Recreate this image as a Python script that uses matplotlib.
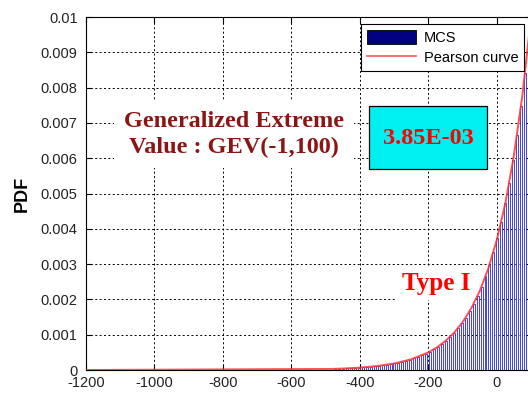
import numpy as np
import matplotlib
matplotlib.use("Agg")
import matplotlib.pyplot as plt
from matplotlib.patches import Patch, Rectangle
from matplotlib.lines import Line2D

# Monte Carlo histogram: 50 equal bins between the sample min and max
bin_lo, bin_hi = -478.0, 100.0
mcs_density = [
    3.3e-5, 3.7e-5, 4.1e-5, 4.6e-5, 5.2e-5, 5.8e-5, 6.6e-5, 7.4e-5, 8.3e-5, 9.3e-5,
    1.04e-4, 1.17e-4, 1.31e-4, 1.47e-4, 1.65e-4, 1.85e-4, 2.08e-4, 2.34e-4, 2.62e-4, 2.94e-4,
    3.30e-4, 3.71e-4, 4.16e-4, 4.67e-4, 5.24e-4, 5.89e-4, 6.61e-4, 7.42e-4, 8.32e-4, 9.35e-4,
    1.05e-3, 1.18e-3, 1.32e-3, 1.48e-3, 1.67e-3, 1.87e-3, 2.10e-3, 2.36e-3, 2.65e-3, 2.97e-3,
    3.34e-3, 3.74e-3, 4.20e-3, 4.72e-3, 5.29e-3, 5.95e-3, 6.67e-3, 7.49e-3, 8.40e-3, 9.43e-3,
]

# fitted Pearson density
pearson_x = [-1200, -480, -450, -400, -350, -300, -250, -200, -175, -150, -125,
             -100, -75, -50, -25, 0, 25, 50, 75, 100]
pearson_pdf = [0.0, 3.0e-5, 4.1e-5, 6.7e-5, 1.11e-4, 1.83e-4, 3.02e-4, 4.98e-4, 6.39e-4,
               8.21e-4, 1.05e-3, 1.35e-3, 1.74e-3, 2.23e-3, 2.87e-3, 3.68e-3, 4.72e-3,
               6.07e-3, 7.79e-3, 1.0e-2]

x_ticks = [-1200, -1000, -800, -600, -400, -200, 0]
y_ticks = [0, 0.001, 0.002, 0.003, 0.004, 0.005, 0.006, 0.007, 0.008, 0.009, 0.01]
error_label = "3.85E-03"

plt.rcParams["font.family"] = ["Liberation Sans", "DejaVu Sans"]
plt.rcParams["axes.unicode_minus"] = False

fig = plt.figure(figsize=(5.28, 3.94), dpi=100)
fig.patch.set_facecolor("white")
ax = fig.add_axes([86 / 528, 24 / 394, 445 / 528, 353 / 394])

edges = np.linspace(bin_lo, bin_hi, len(mcs_density) + 1)
centers = 0.5 * (edges[:-1] + edges[1:])
ax.bar(centers, mcs_density, width=0.5 * (edges[1] - edges[0]), facecolor="white",
       edgecolor="#2020ff", linewidth=0.6, zorder=2)
ax.plot(pearson_x, pearson_pdf, color="#ff3030", lw=1.4, alpha=0.85, zorder=3)

ax.set_xlim(-1200, 100)
ax.set_ylim(0, 0.01)
ax.set_xticks(x_ticks)
ax.set_yticks(y_ticks)
ax.set_yticklabels([f"{v:g}" for v in y_ticks])
ax.tick_params(direction="in", top=True, right=True, length=4, labelsize=10.5,
               width=0.8, labelcolor="#222222")
ax.tick_params(axis="y", pad=6)
ax.tick_params(axis="x", pad=4)
ax.grid(True, color="black", linestyle=(0, (2, 2.5)), linewidth=0.7, zorder=1)
ax.set_axisbelow(True)
for sp in ax.spines.values():
    sp.set_linewidth(0.8)
ax.set_ylabel("PDF", fontsize=13, fontweight="bold")
ax.yaxis.set_label_coords(-0.125, 0.5)

# annotations sit on white backgrounds that hide the grid
serif = ["Liberation Serif", "DejaVu Serif"]
ax.text(-768, 0.00668, "Generalized Extreme\nValue : GEV(-1,100)", ha="center",
        va="center", fontsize=17.5, fontweight="bold", color="#8b1414",
        family=serif, linespacing=1.32, zorder=4,
        bbox=dict(boxstyle="square,pad=0.4", facecolor="white", edgecolor="none"))
ax.text(-177, 0.00246, "Type I", ha="center", va="center", fontsize=18,
        fontweight="bold", color="red", family=serif, zorder=1.5,
        bbox=dict(boxstyle="square,pad=0.2", facecolor="white", edgecolor="none"))

# error box
box = Rectangle((369 / 528, 225 / 394), 118 / 528, 63 / 394, transform=fig.transFigure,
                facecolor="#00f0f0", edgecolor="black", linewidth=0.9, zorder=5)
fig.patches.append(box)
fig.text(428 / 528, 256 / 394, error_label, ha="center", va="center", fontsize=17.5,
         fontweight="bold", color="red", family=serif, zorder=6)

handles = [Patch(facecolor="#000080", edgecolor="black", linewidth=0.6),
           Line2D([], [], color="#ff5050", lw=1.2)]
leg = ax.legend(handles, ["MCS", "Pearson curve"], loc="upper right",
                bbox_to_anchor=(524 / 528, 1 - 24 / 394), bbox_transform=fig.transFigure,
                borderaxespad=0, fontsize=10.5, fancybox=False, framealpha=1,
                edgecolor="black", handlelength=3.4, handleheight=1.1,
                labelspacing=0.35, borderpad=0.4, handletextpad=0.5)
leg.get_frame().set_linewidth(0.8)
leg.set_zorder(5)

fig.savefig("out.png", dpi=100)
